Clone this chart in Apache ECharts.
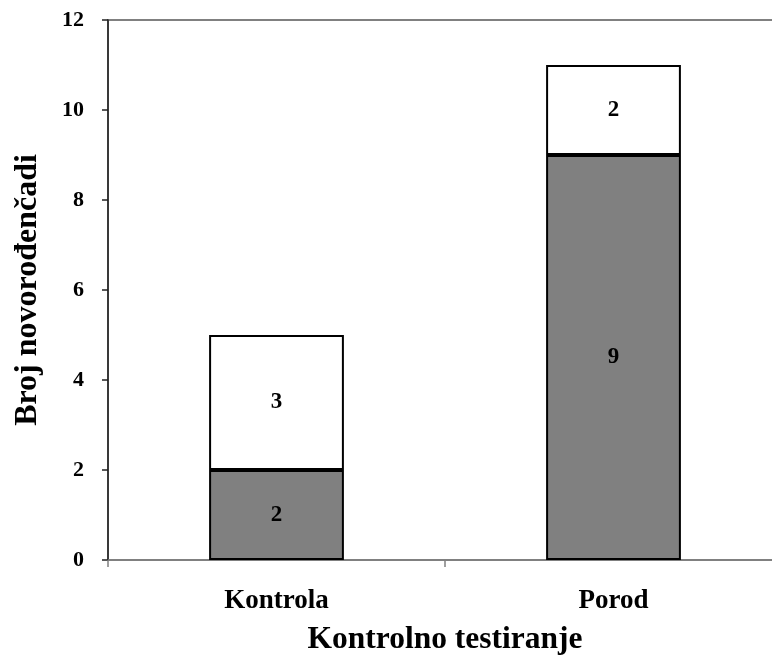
<!DOCTYPE html>
<html>
<head>
<meta charset="utf-8">
<script src="https://cdn.jsdelivr.net/npm/echarts@6/dist/echarts.min.js"></script>
<style>html,body{margin:0;padding:0;background:#fff}#c{width:772px;height:657px}</style>
</head>
<body>
<div id="c"></div>
<script>
const categories = ['Kontrola', 'Porod'];
const bottomValues = [2, 9];
const topValues = [3, 2];
const yTicks = { min: 0, max: 12, interval: 2 };
const yName = 'Broj novorođenčadi';
const xName = 'Kontrolno testiranje';

const FONT = '"Liberation Serif", "Times New Roman", serif';
const chart = echarts.init(document.getElementById('c'), null, { renderer: 'canvas' });
const labelStyle = { show: true, position: 'inside', color: '#000', fontFamily: FONT, fontWeight: 'bold', fontSize: 23 };
chart.setOption({
  animation: false,
  backgroundColor: '#fff',
  grid: { left: 108, top: 20, width: 674, bottom: 97, containLabel: false, outerBoundsMode: 'none', show: true, borderColor: '#808080', borderWidth: 2, backgroundColor: 'transparent' },
  xAxis: {
    type: 'category',
    data: categories,
    axisLine: { lineStyle: { color: '#808080', width: 1.5 } },
    axisTick: { show: true, alignWithLabel: false, length: 7, lineStyle: { color: '#808080', width: 1.5 } },
    axisLabel: { color: '#000', fontFamily: FONT, fontWeight: 'bold', fontSize: 27, margin: 28 },
    name: xName,
    nameLocation: 'middle',
    nameGap: 64,
    nameTextStyle: { color: '#000', fontFamily: FONT, fontWeight: 'bold', fontSize: 31.5 }
  },
  yAxis: {
    type: 'value',
    min: yTicks.min, max: yTicks.max, interval: yTicks.interval,
    splitLine: { show: false },
    axisLine: { show: true, lineStyle: { color: '#222', width: 1.5 } },
    axisTick: { show: true, length: 6, lineStyle: { color: '#222', width: 1.5 } },
    axisLabel: { color: '#000', fontFamily: FONT, fontWeight: 'bold', fontSize: 22, margin: 24 },
    name: yName,
    nameLocation: 'middle',
    nameGap: 64,
    nameRotate: 90,
    nameTextStyle: { color: '#000', fontFamily: FONT, fontWeight: 'bold', fontSize: 32 }
  },
  series: [
    {
      type: 'bar', stack: 'a', data: bottomValues, barWidth: '40%',
      itemStyle: { color: '#808080', borderColor: '#000', borderWidth: 2 },
      label: labelStyle
    },
    {
      type: 'bar', stack: 'a', data: topValues, barWidth: '40%',
      itemStyle: { color: '#fff', borderColor: '#000', borderWidth: 2 },
      label: labelStyle
    }
  ]
});
</script>
</body>
</html>
